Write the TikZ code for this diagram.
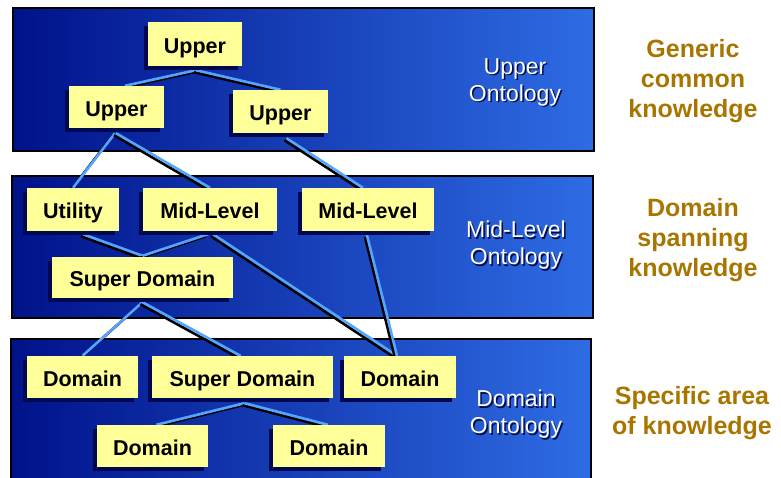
\documentclass[tikz,border=0pt]{standalone}
\usepackage{fontspec}
\setmainfont{Liberation Sans}
\usetikzlibrary{shadows}

\definecolor{panelL}{RGB}{0,18,138}
\definecolor{panelR}{RGB}{46,108,228}
\definecolor{boxfill}{RGB}{255,255,153}
\definecolor{boxshade}{RGB}{0,8,80}
\definecolor{linkblue}{RGB}{85,165,255}
\definecolor{notebrown}{RGB}{168,118,0}
\definecolor{lblshade}{RGB}{0,10,70}

\pgfdeclarelayer{panels}
\pgfdeclarelayer{links}
\pgfsetlayers{panels,links,main}

\begin{document}
\begin{tikzpicture}[x=1pt,y=-1pt,
  concept/.style={fill=boxfill, inner sep=0pt, text=black,
    text height=18.4pt, text depth=0pt,
    font=\fontsize{21.5}{24}\selectfont\bfseries,
    drop shadow={shadow xshift=-4pt, shadow yshift=-4pt, fill=boxshade, opacity=1}},
  panel/.style={left color=panelL, right color=panelR, draw=black, line width=2pt},
  link/.style={draw=linkblue, line width=2.6pt,
    preaction={draw=black, line width=2.6pt, transform canvas={shift={(-2pt,-2pt)}}}},
  layerlbl/.style={align=center, text=white, inner sep=0pt,
    font=\fontsize{23}{27}\selectfont},
  layerlblsh/.style={layerlbl, text=lblshade},
  note/.style={align=center, text=notebrown, inner sep=0pt,
    font=\fontsize{25}{30}\selectfont\bfseries}]

\useasboundingbox (0,0) rectangle (781,478);

% three layer panels
\begin{pgfonlayer}{panels}
  \path[panel] (13,8) rectangle (594,151);
  \path[panel] (12,176) rectangle (593,318);
  \path[panel] (11,339) rectangle (591,481);
\end{pgfonlayer}

% upper ontology
\node[concept, minimum width=94pt, minimum height=44pt] (up0) at (195,44) {Upper};
\node[concept, minimum width=95pt, minimum height=42pt] (upL) at (116.5,107) {Upper};
\node[concept, minimum width=95pt, minimum height=43pt] (upR) at (280.5,111.5) {Upper};

% mid-level ontology
\node[concept, minimum width=92pt, minimum height=43pt] (util) at (73,209.5) {Utility};
\node[concept, minimum width=134pt, minimum height=43pt] (mid1) at (210,209.5) {Mid-Level};
\node[concept, minimum width=132pt, minimum height=43pt] (mid2) at (368,209.5) {Mid-Level};
\node[concept, minimum width=181pt, minimum height=41pt] (sup1) at (142.5,277.5) {Super Domain};

% domain ontology
\node[concept, minimum width=111pt, minimum height=42pt] (dom1) at (82.5,377) {Domain};
\node[concept, minimum width=181pt, minimum height=42pt] (sup2) at (242.5,377) {Super Domain};
\node[concept, minimum width=112pt, minimum height=42pt] (dom3) at (400,377) {Domain};
\node[concept, minimum width=111pt, minimum height=42pt] (dom4) at (152.5,446) {Domain};
\node[concept, minimum width=112pt, minimum height=42pt] (dom5) at (329,446) {Domain};

% connectors
\begin{pgfonlayer}{links}
  \draw[link] ([shift={(1,4)}]up0.south) -- ([shift={(8.5,0)}]upL.north);
  \draw[link] ([shift={(1,4)}]up0.south) -- (upR.north);
  \draw[link] ([shift={(-1.5,5)}]upL.south) -- (util.north);
  \draw[link] ([shift={(-0.5,5)}]upL.south) -- (mid1.north);
  \draw[link] ([shift={(6,5)}]upR.south) -- ([shift={(-5,0)}]mid2.north);
  \draw[link] ([shift={(10,3)}]util.south) -- ([shift={(0,-1)}]sup1.north);
  \draw[link] ([shift={(-2,3)}]mid1.south) -- ([shift={(0,-1)}]sup1.north);
  \draw[link] ([shift={(3,3)}]mid1.south) -- ([shift={(-3,0)}]dom3.north);
  \draw[link] ([shift={(-1,4)}]mid2.south) -- ([shift={(-3,0)}]dom3.north);
  \draw[link] ([shift={(0,4)}]sup1.south) -- (dom1.north);
  \draw[link] ([shift={(0,4)}]sup1.south) -- ([shift={(-2,0)}]sup2.north);
  \draw[link] ([shift={(2,5)}]sup2.south) -- ([shift={(4,0)}]dom4.north);
  \draw[link] ([shift={(2,5)}]sup2.south) -- ([shift={(-1,0)}]dom5.north);
\end{pgfonlayer}

% layer names, with a dark drop copy beneath
\node[layerlblsh] (upperlblsh) at (516.5,83.5) {Upper\\Ontology};
\node[layerlbl] (upperlbl) at (515,82) {Upper\\Ontology};
\node[layerlblsh] (midlblsh) at (517.5,247) {Mid-Level\\Ontology};
\node[layerlbl] (midlbl) at (516,245.5) {Mid-Level\\Ontology};
\node[layerlblsh] (domlblsh) at (517.5,416) {Domain\\Ontology};
\node[layerlbl] (domlbl) at (516,414.5) {Domain\\Ontology};

% notes on the right
\node[note] (noteupper) at (693,81.5) {Generic\\common\\knowledge};
\node[note] (notemid) at (693,240) {Domain\\spanning\\knowledge};
\node[note] (notedom) at (692,413) {Specific area\\of knowledge};

\end{tikzpicture}
\end{document}
